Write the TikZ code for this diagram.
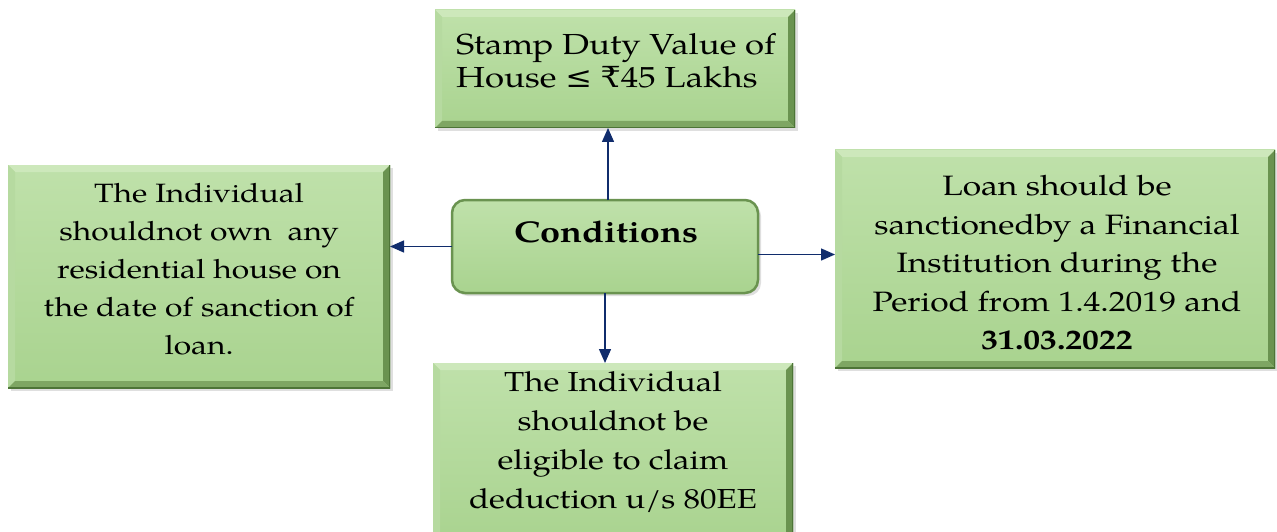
\documentclass[tikz,border=0pt]{standalone}
\usepackage{fontspec}
\setmainfont[FakeStretch=1.2]{TeX Gyre Pagella}
\newfontfamily\symf[FakeStretch=1.1]{DejaVu Serif}
\usetikzlibrary{arrows.meta,shadows}
\definecolor{boxtop}{HTML}{BFE1AA}
\definecolor{boxbot}{HTML}{A9D38F}
\definecolor{bevT}{HTML}{CDE8BB}
\definecolor{bevL}{HTML}{B6DAA0}
\definecolor{bevR}{HTML}{6A9350}
\definecolor{bevB}{HTML}{7EA663}
\definecolor{edge}{HTML}{4D7437}
\definecolor{navy}{HTML}{102C6C}
\begin{document}
\begin{tikzpicture}[x=1pt,y=-1pt,
  bevbox/.style={rectangle, inner sep=0pt, outer sep=0pt,
    top color=boxtop, bottom color=boxbot,
    drop shadow={shadow xshift=3pt, shadow yshift=-3pt, opacity=0.25, fill=gray},
    path picture={
      \path (path picture bounding box.south west) coordinate (psw)
            (path picture bounding box.north east) coordinate (pne);
      \fill[bevT] (psw|-pne) -- (pne) -- ([shift={(-7,7)}]pne) -- ([shift={(7,7)}]psw|-pne) -- cycle;
      \fill[bevL] (psw|-pne) -- ([shift={(7,7)}]psw|-pne) -- ([shift={(7,-7)}]psw) -- (psw) -- cycle;
      \fill[bevR] (pne) -- (pne|-psw) -- ([shift={(-7,-7)}]pne|-psw) -- ([shift={(-7,7)}]pne) -- cycle;
      \fill[bevB] (psw) -- ([shift={(7,-7)}]psw) -- ([shift={(-7,-7)}]pne|-psw) -- (pne|-psw) -- cycle;
      \draw[edge, line width=2pt] (pne) -- (pne|-psw) -- (psw);
    }},
  condbox/.style={rectangle, rounded corners=13pt, inner sep=0pt, outer sep=0pt,
    top color=boxtop, bottom color=boxbot, draw=bevR, line width=2.5pt,
    drop shadow={shadow xshift=3pt, shadow yshift=-3pt, opacity=0.25, fill=gray}},
  txt/.style={inner sep=0pt, text=black},
  arr/.style={draw=navy, line width=1.4pt, -{Triangle[length=14pt,width=12pt]}}
]
\useasboundingbox (0,0) rectangle (1277,532);
\clip (0,0) rectangle (1277,532);
\fill[white] (0,0) rectangle (1277,532);

\node[bevbox, minimum width=360pt, minimum height=118pt] (top) at (615,69) {};
\node[bevbox, minimum width=382pt, minimum height=223pt] (left) at (199,276.5) {};
\node[bevbox, minimum width=440pt, minimum height=218pt] (right) at (1055,259) {};
\node[bevbox, minimum width=360pt, minimum height=182pt] (bottom) at (613,454) {};
\node[condbox, minimum width=306pt, minimum height=93pt] (cond) at (605,246.5) {};

\node[txt, anchor=west, align=left, font=\fontsize{29}{33}\selectfont] (topT) at (456,61)
  {Stamp Duty Value of\\House {\symf ≤} {\symf ₹}45 Lakhs};
\node[txt, align=center, font=\fontsize{26.5}{38}\selectfont] (leftT) at (199,269)
  {The Individual\\shouldnot own\ \ any\\residential house on\\the date of sanction of\\loan.};
\node[txt, align=center, font=\fontsize{28}{38.5}\selectfont] (rightT) at (1057,263)
  {Loan should be\\sanctionedby a Financial\\Institution during the\\Period from 1.4.2019 and\\\textbf{31.03.2022}};
\node[txt, align=center, font=\fontsize{27.5}{39}\selectfont] (bottomT) at (613,442)
  {The Individual\\shouldnot be\\eligible to claim\\deduction u/s 80EE};
\node[txt, font=\fontsize{30}{36}\bfseries\selectfont] (condT) at (606,232) {Conditions};

\draw[arr] ([xshift=3pt]cond.north) -- ([xshift=3pt]cond.north |- top.south);
\draw[arr] (cond.west) -- (cond.west -| left.east);
\draw[arr] ([yshift=-8pt]cond.east) -- ([yshift=-8pt]cond.east -| right.west);
\draw[arr] (cond.south) -- (cond.south |- bottom.north);
\end{tikzpicture}
\end{document}
